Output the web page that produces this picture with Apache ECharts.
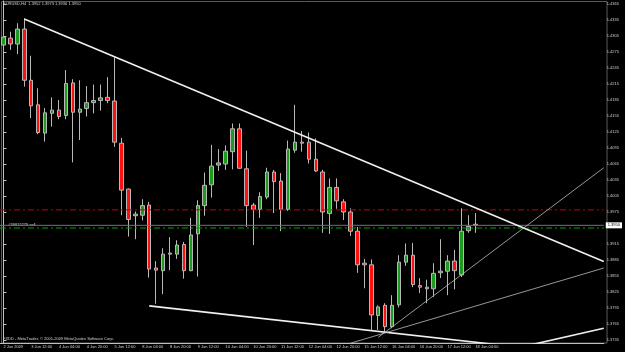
<!DOCTYPE html>
<html>
<head>
<meta charset="utf-8">
<script src="https://cdn.jsdelivr.net/npm/echarts@6/dist/echarts.min.js"></script>
<style>
html, body { margin: 0; padding: 0; background: #000; }
#main { width: 625px; height: 352px; }
</style>
</head>
<body>
<div id="main"></div>
<script>
// EURUSD H4, 2 Jun 20:00 -> 18 Jun 04:00 (one value per bar)
var opens = [1.4288, 1.4301, 1.4290, 1.4318, 1.4222, 1.4176, 1.4123, 1.4160, 1.4166, 1.4156,
	1.4217, 1.4162, 1.4169, 1.4180, 1.4184, 1.4190, 1.4183, 1.4104, 1.4018, 1.3968,
	1.3969, 1.3988, 1.3870, 1.3865, 1.3896, 1.3896, 1.3914, 1.3865, 1.3934, 1.3987,
	1.4026, 1.4063, 1.4065, 1.4088, 1.4131, 1.4056, 1.3988, 1.3980, 1.4003, 1.4050,
	1.4033, 1.3980, 1.4091, 1.4106, 1.4106, 1.4074, 1.4050, 1.3972, 1.4021, 1.3994,
	1.3975, 1.3939, 1.3879, 1.3876, 1.3781, 1.3800, 1.3760, 1.3801, 1.3881, 1.3894,
	1.3837, 1.3834, 1.3831, 1.3861, 1.3864, 1.3883, 1.3857, 1.3940, 1.3952];
var closes = [1.4303, 1.4290, 1.4318, 1.4222, 1.4174, 1.4124, 1.4161, 1.4166, 1.4154, 1.4216,
	1.4162, 1.4168, 1.4180, 1.4184, 1.4189, 1.4184, 1.4106, 1.4016, 1.3961, 1.3971,
	1.3987, 1.3868, 1.3866, 1.3896, 1.3898, 1.3913, 1.3865, 1.3932, 1.3987, 1.4025,
	1.4061, 1.4067, 1.4089, 1.4131, 1.4057, 1.3987, 1.3980, 1.4004, 1.4050, 1.4032,
	1.3980, 1.4093, 1.4106, 1.4104, 1.4074, 1.4052, 1.3975, 1.4021, 1.3996, 1.3975,
	1.3939, 1.3876, 1.3876, 1.3782, 1.3797, 1.3760, 1.3800, 1.3881, 1.3894, 1.3839,
	1.3834, 1.3831, 1.3860, 1.3864, 1.3883, 1.3865, 1.3939, 1.3948, 1.3950];
var lows = [1.4279, 1.4279, 1.4271, 1.4210, 1.4151, 1.4121, 1.4107, 1.4135, 1.4149, 1.4149,
	1.4068, 1.4110, 1.4154, 1.4160, 1.4165, 1.4179, 1.4097, 1.3969, 1.3929, 1.3924,
	1.3959, 1.3852, 1.3803, 1.3821, 1.3866, 1.3887, 1.3850, 1.3864, 1.3854, 1.3968,
	1.4002, 1.4052, 1.4054, 1.4055, 1.4056, 1.3947, 1.3913, 1.3964, 1.3999, 1.3973,
	1.3939, 1.3977, 1.4086, 1.4088, 1.4066, 1.4050, 1.3936, 1.3934, 1.3981, 1.3960,
	1.3930, 1.3861, 1.3832, 1.3754, 1.3754, 1.3748, 1.3757, 1.3796, 1.3874, 1.3834,
	1.3823, 1.3804, 1.3816, 1.3851, 1.3819, 1.3830, 1.3853, 1.3936, 1.3936];
var highs = [1.4331, 1.4313, 1.4329, 1.4338, 1.4268, 1.4207, 1.4170, 1.4190, 1.4185, 1.4241,
	1.4224, 1.4222, 1.4211, 1.4214, 1.4214, 1.4228, 1.4265, 1.4114, 1.4019, 1.3976,
	1.3999, 1.3994, 1.3883, 1.3907, 1.3928, 1.3922, 1.3919, 1.3964, 1.3997, 1.4049,
	1.4101, 1.4093, 1.4100, 1.4141, 1.4141, 1.4090, 1.3992, 1.4012, 1.4058, 1.4054,
	1.4048, 1.4109, 1.4176, 1.4127, 1.4124, 1.4113, 1.4054, 1.4038, 1.4038, 1.3999,
	1.3982, 1.3947, 1.3887, 1.3886, 1.3800, 1.3804, 1.3819, 1.3894, 1.3916, 1.3917,
	1.3851, 1.3848, 1.3879, 1.3924, 1.3894, 1.3904, 1.3982, 1.3969, 1.3973];

// one label every 4 bars
var timeLabels = ['2 Jun 2009', '3 Jun 12:00', '4 Jun 04:00', '4 Jun 20:00', '5 Jun 12:00',
	'8 Jun 04:00', '8 Jun 20:00', '9 Jun 12:00', '10 Jun 04:00', '10 Jun 20:00',
	'11 Jun 12:00', '12 Jun 04:00', '12 Jun 20:00', '15 Jun 12:00', '16 Jun 04:00',
	'16 Jun 20:00', '17 Jun 12:00', '18 Jun 04:00'];
var priceLabels = [1.4365, 1.4335, 1.4305, 1.4275, 1.4245, 1.4215, 1.4185, 1.4155, 1.4125,
	1.4095, 1.4065, 1.4035, 1.4005, 1.3975, 1.3915, 1.3885, 1.3855, 1.3825, 1.3795,
	1.3765, 1.3735];
var shiftBars = 18; // empty space right of the last bar

// trend lines, [bar index, price]
var trendTop = [[3, 1.4337], [86.5, 1.3882]];
var trendLow = [[21, 1.3799], [72, 1.3725]];
var trendUp1 = [[54, 1.3740], [86.5, 1.4058]];
var trendUp2 = [[50, 1.3729], [86.5, 1.3870]];
var trendUp3 = [[76, 1.3726], [86.5, 1.3757]];

var bidPrice = 1.3950;
var stopPrice = 1.3979;
var orderPrice = 1.3945;

var FONT = 'Liberation Sans';
var TXT = '#d2d2d2';

var barCount = opens.length + shiftBars;
var categories = [];
for (var i = 0; i < barCount; i++) {
	categories.push(i % 4 === 0 && timeLabels[i / 4] ? timeLabels[i / 4] : '');
}
var candles = opens.map(function (o, i) {
	return [o, closes[i], lows[i], highs[i]];
});

function trend(data, color, width, type) {
	return {
		type: 'line',
		xAxisIndex: 1,
		data: data,
		symbol: 'none',
		silent: true,
		clip: true,
		lineStyle: { color: color, width: width, type: type || 'solid' },
		z: 5
	};
}
function level(price, color, type) {
	return trend([[-0.5, price], [barCount - 0.5, price]], color, 1, type);
}

var orderLine = level(orderPrice, '#00a000', [6, 3, 2, 3]);
orderLine.markPoint = {
	silent: true,
	symbol: 'rect',
	symbolSize: 1,
	itemStyle: { color: 'rgba(0,0,0,0)' },
	data: [{
		coord: [-0.1, orderPrice],
		label: {
			show: true,
			position: 'right',
			offset: [0, -3],
			formatter: '#39815279 sell',
			fontSize: 4,
			color: TXT,
			fontFamily: FONT
		}
	}]
};

var myChart = echarts.init(document.getElementById('main'));
myChart.setOption({
	animation: false,
	backgroundColor: '#000000',
	title: {
		text: 'EURUSD,H4  1.3952 1.3973 1.3936 1.3950',
		left: 3,
		top: 2,
		padding: 0,
		textStyle: { fontSize: 4, fontWeight: 'normal', color: TXT, fontFamily: FONT }
	},
	grid: { left: -2, right: 18, top: 1, bottom: 9 },
	xAxis: [{
		type: 'category',
		data: categories,
		boundaryGap: true,
		axisLine: { lineStyle: { color: '#c0c0c0', width: 1 } },
		axisTick: {
			alignWithLabel: true,
			length: 3,
			interval: function (idx, val) { return val !== ''; },
			lineStyle: { color: '#c0c0c0' }
		},
		axisLabel: {
			interval: function (idx, val) { return val !== ''; },
			align: 'left',
			margin: 2,
			fontSize: 4,
			color: TXT,
			fontFamily: FONT
		},
		splitLine: { show: false }
	}, {
		type: 'value',
		min: -0.5,
		max: barCount - 0.5,
		show: false
	}],
	yAxis: [{
		type: 'value',
		position: 'right',
		min: 1.3729375,
		max: 1.4370625,
		axisLine: { show: true, lineStyle: { color: '#c0c0c0', width: 1 } },
		axisTick: { show: true, length: 3, customValues: priceLabels, lineStyle: { color: '#c0c0c0' } },
		axisLabel: {
			customValues: priceLabels,
			formatter: function (v) { return v.toFixed(4); },
			margin: 3,
			fontSize: 4,
			color: TXT,
			fontFamily: FONT
		},
		splitLine: { show: false }
	}, {
		// current bid price box
		type: 'value',
		position: 'right',
		min: 1.3729375,
		max: 1.4370625,
		axisLine: { show: false },
		axisTick: { show: false },
		axisLabel: {
			customValues: [bidPrice],
			formatter: function (v) { return v.toFixed(4); },
			margin: 2,
			fontSize: 4,
			color: '#000000',
			backgroundColor: '#ffffff',
			padding: [1, 2],
			fontFamily: FONT
		},
		splitLine: { show: false }
	}],
	graphic: [{
		type: 'rect',
		shape: { x: 1.5, y: 1.5, width: 605.5, height: 341.5 },
		style: { fill: 'none', stroke: '#5a5a5a', lineWidth: 1 },
		silent: true,
		z: -1
	}, {
		type: 'text',
		left: 3,
		top: 337,
		style: {
			text: 'FXDD - MetaTrader, \u00a9 2001-2009 MetaQuotes Software Corp.',
			fill: TXT,
			font: '4px ' + FONT
		}
	}],
	series: [
	level(stopPrice, '#c80000', [6, 3, 2, 3]),
	level(bidPrice, '#6c7480', 'solid'),
	orderLine,
	{
		type: 'candlestick',
		data: candles,
		barWidth: 4,
		silent: true,
		z: 4,
		itemStyle: {
			color: '#1f9a1f',
			color0: '#ff0f0f',
			borderColor: '#b8b8b8',
			borderColor0: '#b8b8b8',
			borderWidth: 1
		}
	},
	trend(trendTop, '#f0f0f0', 1.6),
	trend(trendLow, '#f0f0f0', 1.6),
	trend(trendUp3, '#f0f0f0', 1.6),
	trend(trendUp1, '#bdbdbd', 0.8),
	trend(trendUp2, '#bdbdbd', 0.8)
	]
});
</script>
</body>
</html>
